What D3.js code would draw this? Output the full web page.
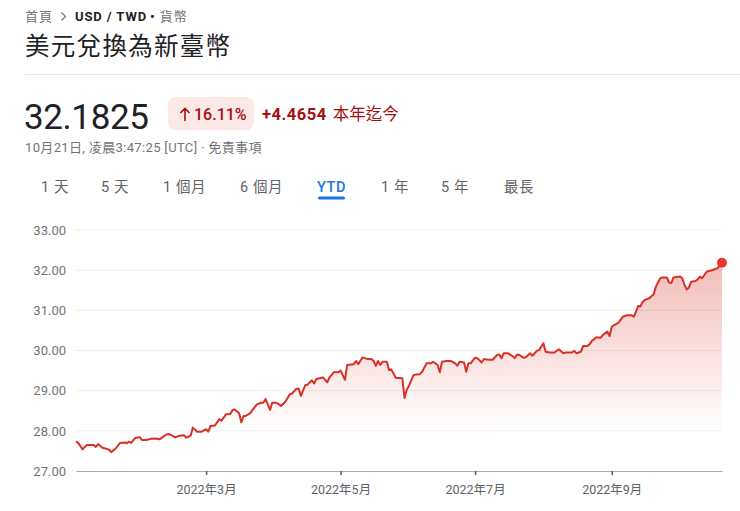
<!DOCTYPE html>
<html>
<head>
<meta charset="utf-8">
<script src="https://cdn.jsdelivr.net/npm/d3@7"></script>
<style>
  html, body { margin: 0; padding: 0; background: #fff; }
  svg { display: block; font-family: Roboto, "Noto Sans CJK TC", sans-serif; }
</style>
</head>
<body>
<svg id="chart" width="740" height="511"></svg>
<script>
// ---------- data ----------
const dates = [
  "2022-01-01","2022-01-02","2022-01-04","2022-01-05","2022-01-06","2022-01-09","2022-01-10","2022-01-11","2022-01-13","2022-01-15",
  "2022-01-16","2022-01-17","2022-01-19","2022-01-21","2022-01-23","2022-01-24","2022-01-25","2022-01-26","2022-01-28","2022-01-30",
  "2022-01-31","2022-02-02","2022-02-04","2022-02-06","2022-02-08","2022-02-09","2022-02-11","2022-02-12","2022-02-13","2022-02-15",
  "2022-02-17","2022-02-19","2022-02-20","2022-02-22","2022-02-23","2022-02-25","2022-02-27","2022-03-01","2022-03-02","2022-03-03",
  "2022-03-05","2022-03-07","2022-03-08","2022-03-10","2022-03-12","2022-03-13","2022-03-14","2022-03-16","2022-03-17","2022-03-18",
  "2022-03-19","2022-03-21","2022-03-24","2022-03-26","2022-03-27","2022-03-28","2022-03-30","2022-03-31","2022-04-02","2022-04-04",
  "2022-04-06","2022-04-08","2022-04-09","2022-04-11","2022-04-12","2022-04-13","2022-04-15","2022-04-16","2022-04-18","2022-04-19",
  "2022-04-20","2022-04-23","2022-04-25","2022-04-26","2022-04-28","2022-04-30","2022-05-01","2022-05-03","2022-05-04","2022-05-07",
  "2022-05-08","2022-05-09","2022-05-11","2022-05-13","2022-05-15","2022-05-16","2022-05-17","2022-05-18","2022-05-19","2022-05-20",
  "2022-05-22","2022-05-23","2022-05-24","2022-05-25","2022-05-26","2022-05-29","2022-05-30","2022-05-31","2022-06-01","2022-06-03",
  "2022-06-04","2022-06-06","2022-06-07","2022-06-09","2022-06-11","2022-06-12","2022-06-14","2022-06-15","2022-06-16","2022-06-18",
  "2022-06-20","2022-06-22","2022-06-23","2022-06-24","2022-06-26","2022-06-27","2022-06-28","2022-06-29","2022-07-01","2022-07-02",
  "2022-07-04","2022-07-05","2022-07-07","2022-07-09","2022-07-11","2022-07-12","2022-07-13","2022-07-14","2022-07-16","2022-07-18",
  "2022-07-19","2022-07-20","2022-07-21","2022-07-23","2022-07-24","2022-07-26","2022-07-27","2022-07-29","2022-07-30","2022-08-01",
  "2022-08-02","2022-08-04","2022-08-06","2022-08-08","2022-08-10","2022-08-11","2022-08-14","2022-08-15","2022-08-16","2022-08-18",
  "2022-08-19","2022-08-21","2022-08-22","2022-08-23","2022-08-24","2022-08-25","2022-08-27","2022-08-28","2022-08-30","2022-08-31",
  "2022-09-01","2022-09-02","2022-09-04","2022-09-06","2022-09-08","2022-09-10","2022-09-11","2022-09-13","2022-09-14","2022-09-15",
  "2022-09-16","2022-09-18","2022-09-20","2022-09-21","2022-09-23","2022-09-24","2022-09-26","2022-09-27","2022-09-28","2022-09-29",
  "2022-10-02","2022-10-03","2022-10-04","2022-10-05","2022-10-06","2022-10-07","2022-10-09","2022-10-10","2022-10-11","2022-10-12",
  "2022-10-14","2022-10-16","2022-10-17","2022-10-19","2022-10-21"
];
const rates = [
  27.73,27.70,27.54,27.60,27.65,27.65,27.60,27.67,27.58,27.55,
  27.53,27.47,27.56,27.70,27.71,27.69,27.73,27.70,27.83,27.84,
  27.77,27.77,27.80,27.81,27.79,27.83,27.91,27.92,27.90,27.84,
  27.88,27.89,27.83,27.88,28.08,27.98,27.98,28.04,27.98,28.12,
  28.13,28.29,28.25,28.41,28.42,28.52,28.53,28.44,28.21,28.37,
  28.37,28.44,28.66,28.70,28.70,28.79,28.52,28.70,28.70,28.62,
  28.73,28.91,28.93,29.05,29.05,28.87,29.14,29.15,29.26,29.18,
  29.29,29.33,29.21,29.33,29.46,29.46,29.50,29.27,29.64,29.66,
  29.74,29.66,29.83,29.79,29.79,29.74,29.62,29.74,29.64,29.72,
  29.72,29.51,29.53,29.43,29.32,29.31,28.82,29.02,29.12,29.38,
  29.40,29.41,29.47,29.68,29.68,29.72,29.64,29.46,29.72,29.74,
  29.74,29.68,29.62,29.72,29.70,29.47,29.68,29.68,29.82,29.81,
  29.70,29.79,29.77,29.77,29.89,29.90,29.81,29.93,29.93,29.86,
  29.81,29.90,29.89,29.82,29.83,29.93,29.87,29.99,30.01,30.18,
  29.97,29.95,29.95,30.03,29.93,29.95,29.95,29.99,29.93,29.97,
  30.11,30.11,30.16,30.24,30.28,30.33,30.32,30.39,30.47,30.36,
  30.59,30.63,30.69,30.84,30.88,30.88,30.84,31.11,31.10,31.21,
  31.26,31.30,31.40,31.59,31.80,31.82,31.82,31.69,31.68,31.82,
  31.84,31.80,31.63,31.52,31.57,31.71,31.73,31.77,31.84,31.80,
  31.96,31.99,32.01,32.05,32.1825
];
const yTicks = [27, 28, 29, 30, 31, 32, 33];
const xTickDates = ["2022-03-01", "2022-05-01", "2022-07-01", "2022-09-01"];
const tabLabels = ["1 天", "5 天", "1 個月", "6 個月", "YTD", "1 年", "5 年", "最長"];
const activeTab = "YTD";
const currentRate = "32.1825";
const changePct = "16.11%";
const changeAbs = "+4.4654";

// ---------- setup ----------
const parse = d3.timeParse("%Y-%m-%d");
const data = dates.map((d, i) => ({ date: parse(d), value: rates[i] }));
const svg = d3.select("#chart");

const GRAY = "#70757a", DARK = "#202124", RED = "#d93025", DRED = "#a50e0e";

// ---------- header ----------
const bc = svg.append("text").attr("y", 21).attr("font-size", 13);
bc.append("tspan").attr("x", 25).attr("fill", GRAY).attr("letter-spacing", 1).text("首頁");
svg.append("path").attr("d", "M61.5,12.5 L65.5,16.5 L61.5,20.5").attr("fill", "none")
  .attr("stroke", GRAY).attr("stroke-width", 1.2);
bc.append("tspan").attr("x", 75).attr("fill", DARK).attr("font-weight", 700).attr("letter-spacing", 0.9).text("USD / TWD");
bc.append("tspan").attr("dx", 3).attr("fill", DARK).attr("font-weight", 700).text("•");
bc.append("tspan").attr("dx", 5).attr("fill", GRAY).attr("letter-spacing", 1).text("貨幣");

svg.append("text").attr("x", 25).attr("y", 55).attr("font-size", 24.5).attr("fill", DARK)
  .attr("letter-spacing", 1.3).text("美元兌換為新臺幣");

svg.append("line").attr("x1", 25).attr("x2", 740).attr("y1", 74.5).attr("y2", 74.5)
  .attr("stroke", "#e3e3e3").attr("stroke-width", 1);

svg.append("text").attr("x", 24).attr("y", 129).attr("font-size", 35).attr("fill", DARK)
  .attr("letter-spacing", -0.4).text(currentRate);

svg.append("rect").attr("x", 168).attr("y", 97).attr("width", 86).attr("height", 33).attr("rx", 8)
  .attr("fill", "#fce8e6");
svg.append("path").attr("d", "M185,121 L185,108.5 M180.5,113 L185,108.5 L189.5,113")
  .attr("fill", "none").attr("stroke", DRED).attr("stroke-width", 1.6);
svg.append("text").attr("x", 194).attr("y", 120).attr("font-size", 16).attr("font-weight", 500)
  .attr("fill", DRED).text(changePct);

const ch = svg.append("text").attr("x", 262).attr("y", 120).attr("font-size", 16.5).attr("fill", DRED);
ch.append("tspan").attr("font-weight", 700).attr("letter-spacing", 0.5).text(changeAbs);
ch.append("tspan").attr("dx", 6).attr("font-weight", 400).text("本年迄今");

svg.append("text").attr("x", 25).attr("y", 152).attr("font-size", 13).attr("fill", GRAY)
  .attr("letter-spacing", 0.35)
  .text("10月21日, 凌晨3:47:25 [UTC] · 免責事項");

// tabs
const tabX = [41, 101, 163, 240, 317, 381, 441, 504];
tabLabels.forEach((t, i) => {
  const active = t === activeTab;
  svg.append("text").attr("x", tabX[i]).attr("y", 192).attr("font-size", 14.5)
    .attr("letter-spacing", 0.6)
    .attr("font-weight", active ? 500 : 400)
    .attr("fill", active ? "#1a73e8" : "#5f6368").text(t);
});
svg.append("rect").attr("x", 318).attr("y", 196.5).attr("width", 27).attr("height", 3).attr("rx", 1.5)
  .attr("fill", "#1a73e8");

// ---------- chart ----------
const x = d3.scaleTime().domain([parse("2022-01-01"), parse("2022-10-21")]).range([76, 722]);
const y = d3.scaleLinear().domain([27, 33]).range([471, 230]);

// gridlines
svg.append("g").selectAll("line").data(yTicks.filter(v => v !== 27)).join("line")
  .attr("x1", 76).attr("x2", 722).attr("y1", d => y(d)).attr("y2", d => y(d))
  .attr("stroke", "#eeeeee").attr("stroke-width", 1);

// y labels
const yAxis = svg.append("g").attr("transform", "translate(76,0)")
  .call(d3.axisLeft(y).tickValues(yTicks).tickFormat(d3.format(".2f")).tickSize(0).tickPadding(10));
yAxis.select(".domain").remove();
yAxis.selectAll("text").attr("font-size", 13).attr("fill", GRAY).attr("font-family", "Roboto, sans-serif");

// area gradient
const defs = svg.append("defs");
const grad = defs.append("linearGradient").attr("id", "areaGrad")
  .attr("gradientUnits", "userSpaceOnUse")
  .attr("x1", 0).attr("x2", 0).attr("y1", y(d3.max(rates))).attr("y2", y(28));
grad.append("stop").attr("offset", 0).attr("stop-color", RED).attr("stop-opacity", 0.32);
grad.append("stop").attr("offset", 1).attr("stop-color", RED).attr("stop-opacity", 0.0);

svg.append("path").datum(data)
  .attr("d", d3.area().x(d => x(d.date)).y0(y(27)).y1(d => y(d.value)))
  .attr("fill", "url(#areaGrad)");

// x axis
const xAxis = svg.append("g").attr("transform", `translate(0,${y(27)})`)
  .call(d3.axisBottom(x).tickValues(xTickDates.map(parse))
    .tickFormat(d3.timeFormat("%Y年%-m月")).tickSize(4).tickSizeOuter(0).tickPadding(10));
xAxis.select(".domain").attr("stroke", "#a8abaf").attr("stroke-width", 1.2);
xAxis.selectAll(".tick line").attr("stroke", "#5f6368").attr("stroke-width", 1.6);
xAxis.selectAll("text").attr("font-size", 12.5).attr("fill", "#5f6368")
  .attr("font-family", "Roboto, 'Noto Sans CJK TC', sans-serif");

// line
svg.append("path").datum(data)
  .attr("d", d3.line().x(d => x(d.date)).y(d => y(d.value)))
  .attr("fill", "none").attr("stroke", RED).attr("stroke-width", 2).attr("stroke-linejoin", "round");

// end dot
const last = data[data.length - 1];
svg.append("circle").attr("cx", x(last.date)).attr("cy", y(last.value)).attr("r", 5)
  .attr("fill", "#e8382c");
</script>
</body>
</html>
